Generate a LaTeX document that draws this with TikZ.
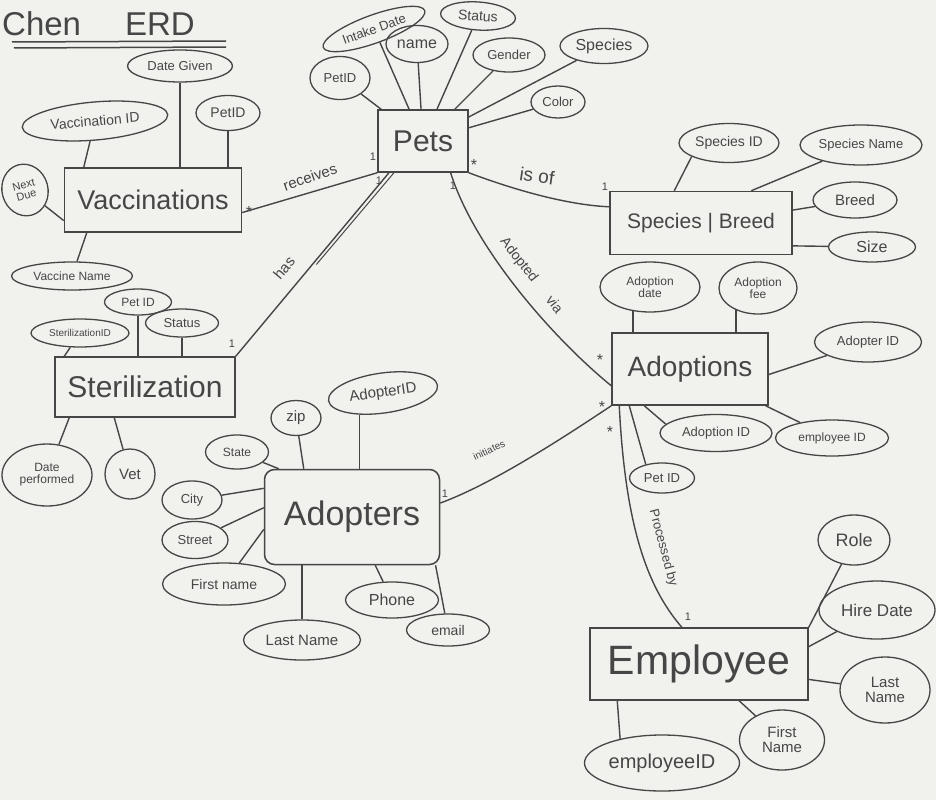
\documentclass[tikz,border=0pt]{standalone}
\usepackage{fontspec}
\setmainfont{Liberation Sans}
\usetikzlibrary{shapes.geometric,calc}
\definecolor{paper}{RGB}{241,241,238}
\definecolor{ink}{RGB}{70,70,70}
\newcommand{\myfs}[1]{\fontsize{#1}{#1}\selectfont}
\begin{document}
\begin{tikzpicture}[x=1pt,y=-1pt,
  ent/.style={draw=ink,line width=1.5pt,rectangle,text=ink,inner sep=0pt},
  attr/.style={draw=ink,line width=1.3pt,ellipse,text=ink,inner sep=0pt,align=center},
  conn/.style={draw=ink,line width=1.4pt},
  rlabel/.style={text=ink,inner sep=0pt},
  card/.style={text=ink,inner sep=0pt,font=\myfs{11}},
  star/.style={text=ink,inner sep=0pt,font=\myfs{16}}]
\useasboundingbox (0,0) rectangle (936,800);
\fill[paper] (0,0) rectangle (936,800);

% title
\node[rlabel,font=\myfs{33},anchor=west] (title) at (2,24) {Chen\hspace{44pt}ERD};
\draw[ink,line width=1.5pt] (12,42) -- (226,41);
\draw[ink,line width=1.5pt] (14,48) -- (226,47);

% entities
\node[ent,minimum width=90pt,minimum height=62pt,font=\myfs{30}] (pets) at (423,141) {Pets};
\node[ent,minimum width=177pt,minimum height=64pt,font=\myfs{27}] (vacc) at (153,200) {Vaccinations};
\node[ent,minimum width=182pt,minimum height=63pt,font=\myfs{21}] (spec) at (701,223) {Species | Breed};
\node[ent,minimum width=180pt,minimum height=60pt,font=\myfs{30}] (ster) at (145,387) {Sterilization};
\node[ent,rounded corners=10pt,minimum width=175pt,minimum height=95pt,font=\myfs{34}] (adopters) at (352,517) {Adopters};
\node[ent,minimum width=156pt,minimum height=72pt,font=\myfs{28}] (adoptions) at (690,369) {Adoptions};
\node[ent,minimum width=218pt,minimum height=72pt,font=\myfs{41}] (emp) at (699,664) {Employee};

% Pets attributes
\node[attr,minimum width=60pt,minimum height=43pt,font=\myfs{13}] (petid) at (340,78) {PetID};
\node[attr,minimum width=108pt,minimum height=28pt,font=\myfs{13},rotate=20] (intake) at (374,29) {Intake Date};
\node[attr,minimum width=62pt,minimum height=37pt,font=\myfs{16}] (pname) at (417,44) {name};
\node[attr,minimum width=75pt,minimum height=28pt,font=\myfs{14},rotate=-4] (pstatus) at (478,16) {Status};
\node[attr,minimum width=72pt,minimum height=34pt,font=\myfs{13}] (gender) at (509,55) {Gender};
\node[attr,minimum width=88pt,minimum height=35pt,font=\myfs{16}] (pspecies) at (604,46) {Species};
\node[attr,minimum width=54pt,minimum height=32pt,font=\myfs{13}] (color) at (558,102) {Color};

% Vaccinations attributes
\node[attr,minimum width=105pt,minimum height=32pt,font=\myfs{13}] (dategiven) at (180,66) {Date Given};
\node[attr,minimum width=146pt,minimum height=38pt,font=\myfs{14},rotate=5] (vaccid) at (95,121) {Vaccination ID};
\node[attr,minimum width=64pt,minimum height=35pt,font=\myfs{14}] (vpetid) at (228,113) {PetID};
\node[attr,minimum width=46pt,minimum height=52pt,font=\myfs{11},rotate=15] (nextdue) at (25,190) {Next\\Due};
\node[attr,minimum width=121pt,minimum height=28pt,font=\myfs{12}] (vaccname) at (72,276) {Vaccine Name};

% Species/Breed attributes
\node[attr,minimum width=100pt,minimum height=39pt,font=\myfs{14}] (specid) at (729,143) {Species ID};
\node[attr,minimum width=122pt,minimum height=40pt,font=\myfs{13}] (specname) at (861,145) {Species Name};
\node[attr,minimum width=84pt,minimum height=36pt,font=\myfs{15}] (breed) at (855,200) {Breed};
\node[attr,minimum width=87pt,minimum height=30pt,font=\myfs{16}] (size) at (872,247) {Size};

% Sterilization attributes
\node[attr,minimum width=67pt,minimum height=26pt,font=\myfs{12}] (spetid) at (138,302) {Pet ID};
\node[attr,minimum width=98pt,minimum height=28pt,font=\myfs{10}] (sterid) at (80,333) {SterilizationID};
\node[attr,minimum width=73pt,minimum height=28pt,font=\myfs{13}] (sstatus) at (182,323) {Status};
\node[attr,minimum width=90pt,minimum height=62pt,font=\myfs{12}] (dateperf) at (47,475) {Date\\performed};
\node[attr,minimum width=50pt,minimum height=50pt,font=\myfs{15}] (vet) at (130,474) {Vet};

% Adopters attributes
\node[attr,minimum width=110pt,minimum height=40pt,font=\myfs{15},rotate=8] (adopterid) at (383,393) {AdopterID};
\node[attr,minimum width=50pt,minimum height=35pt,font=\myfs{15}] (zip) at (296,418) {zip};
\node[attr,minimum width=63pt,minimum height=34pt,font=\myfs{12}] (state) at (237,452) {State};
\node[attr,minimum width=60pt,minimum height=38pt,font=\myfs{13}] (city) at (192,500) {City};
\node[attr,minimum width=66pt,minimum height=37pt,font=\myfs{13}] (street) at (195,540) {Street};
\node[attr,minimum width=123pt,minimum height=42pt,font=\myfs{14}] (afirst) at (224,584) {First name};
\node[attr,minimum width=93pt,minimum height=36pt,font=\myfs{16}] (phone) at (392,600) {Phone};
\node[attr,minimum width=117pt,minimum height=40pt,font=\myfs{15}] (alast) at (302,640) {Last Name};
\node[attr,minimum width=83pt,minimum height=32pt,font=\myfs{14}] (email) at (448,630) {email};

% Adoptions attributes
\node[attr,minimum width=100pt,minimum height=50pt,font=\myfs{12}] (adate) at (650,287) {Adoption\\date};
\node[attr,minimum width=78pt,minimum height=52pt,font=\myfs{12}] (afee) at (758,288) {Adoption\\fee};
\node[attr,minimum width=107pt,minimum height=40pt,font=\myfs{13}] (aadopterid) at (868,342) {Adopter ID};
\node[attr,minimum width=112pt,minimum height=37pt,font=\myfs{13}] (adoptionid) at (716,433) {Adoption ID};
\node[attr,minimum width=113pt,minimum height=36pt,font=\myfs{12}] (aempid) at (832,438) {employee ID};
\node[attr,minimum width=65pt,minimum height=30pt,font=\myfs{13}] (apetid) at (662,478) {Pet ID};

% Employee attributes
\node[attr,minimum width=72pt,minimum height=50pt,font=\myfs{18}] (role) at (854,540) {Role};
\node[attr,minimum width=116pt,minimum height=58pt,font=\myfs{17}] (hiredate) at (877,610) {Hire Date};
\node[attr,minimum width=90pt,minimum height=66pt,font=\myfs{15}] (elast) at (885,690) {Last\\Name};
\node[attr,minimum width=85pt,minimum height=60pt,font=\myfs{15}] (efirst) at (782,740) {First\\Name};
\node[attr,minimum width=155pt,minimum height=56pt,font=\myfs{20}] (eempid) at (662,763) {employeeID};

% attribute connectors
\foreach \a in {petid,intake,pname,pstatus,gender,pspecies,color} \draw[conn] (\a) -- (pets);
\draw[conn] (dategiven.south) -- (dategiven.south |- vacc.north);
\draw[conn] (vaccid) -- ([xshift=20pt]vacc.north west);
\draw[conn] (vpetid.south) -- (vpetid.south |- vacc.north);
\draw[conn] (nextdue) -- (vacc.193);
\draw[conn] (vaccname) -- ([xshift=23pt]vacc.south west);
\draw[conn] (specid.200) -- ([xshift=65pt]spec.north west);
\draw[conn] (specname) -- ([xshift=142pt]spec.north west);
\draw[conn] (breed) -- (spec.8);
\draw[conn] (size) -- (spec.-14);
\draw[conn] (spetid.south) -- (spetid.south |- ster.north);
\draw[conn] (sterid) -- ([xshift=10pt]ster.north west);
\draw[conn] (sstatus.south) -- (sstatus.south |- ster.north);
\draw[conn] (dateperf) -- ([xshift=15pt]ster.south west);
\draw[conn] (vet) -- ([xshift=60pt]ster.south west);
\draw[conn] (adopterid.215) -- (adopterid.215 |- adopters.north);
\draw[conn] (zip) -- ([xshift=40pt]adopters.north west);
\draw[conn] (state) -- ([xshift=15pt]adopters.north west);
\draw[conn] (city) -- (adopters.162);
\draw[conn] (street) -- (adopters.174);
\draw[conn] (afirst) -- (adopters.188);
\draw[conn] (phone) -- (adopters);
\draw[conn] (alast.north) -- (alast.north |- adopters.south);
\draw[conn] (email) -- (adopters.-30);
\draw[conn] (adate.235) -- (adate.235 |- adoptions.north);
\draw[conn] (afee.225) -- (afee.225 |- adoptions.north);
\draw[conn] (aadopterid) -- (adoptions.-4);
\draw[conn] (adoptionid.170) -- ([xshift=33pt]adoptions.south west);
\draw[conn] (aempid) -- (adoptions);
\draw[conn] (apetid.140) -- ([xshift=18pt]adoptions.south west);
\draw[conn] (role) -- (emp.north east);
\draw[conn] (hiredate) -- (emp.9);
\draw[conn] (elast) -- (emp.-8);
\draw[conn] (efirst) -- (emp);
\draw[conn] (eempid.150) -- ([xshift=28pt]emp.south west);

% relationships
\draw[conn] (vacc.-8) -- (pets.south west);
\node[rlabel,font=\myfs{15},rotate=19] (lrec) at (310,177) {receives};

\draw[conn] (pets.223) -- (ster.north east);
\draw[conn,line width=1pt] ([xshift=5pt]pets.223) -- ($(pets.223)!0.5!(ster.north east)+(4,0)$);
\node[rlabel,font=\myfs{15},rotate=50] (lhas) at (284,268) {has};

\draw[conn] (pets.south east) .. controls (520,192) and (570,205) .. (spec.170);
\node[rlabel,font=\myfs{19},rotate=-8] (lisof) at (537,176) {is of};

\draw[conn] (pets.-49) .. controls (475,250) and (555,340) .. (adoptions.192);
\node[rlabel,font=\myfs{14},rotate=-52] (ladopt) at (531,276) {Adopted\hspace{22pt}via};

\draw[conn] (adopters.9) .. controls (490,485) and (560,440) .. (adoptions.south west);
\node[rlabel,font=\myfs{10},rotate=25] (linit) at (489,450) {initiates};

\draw[conn] ([xshift=8pt]adoptions.south west) .. controls (625,520) and (645,585) .. (emp.115);
\node[rlabel,font=\myfs{13},rotate=-75] (lproc) at (663,548) {Processed by};

% cardinalities
\node[star] (c1) at (249,212) {*};
\node[card] (c2) at (373,157) {1};
\node[card] (c3) at (379,181) {1};
\node[card] (c4) at (232,344) {1};
\node[star] (c5) at (474,165) {*};
\node[card] (c6) at (605,187) {1};
\node[card] (c7) at (453,186) {1};
\node[star] (c8) at (600,360) {*};
\node[card] (c9) at (445,494) {1};
\node[star] (c10) at (602,407) {*};
\node[star] (c11) at (610,432) {*};
\node[card] (c12) at (688,617) {1};
\end{tikzpicture}
\end{document}
